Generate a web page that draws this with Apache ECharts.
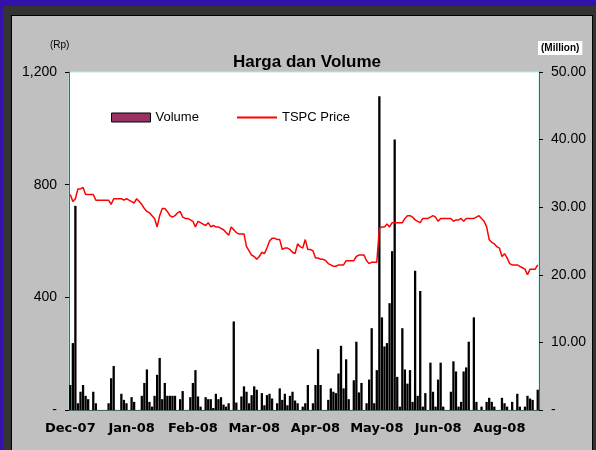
<!DOCTYPE html>
<html>
<head>
<meta charset="utf-8">
<script src="https://cdn.jsdelivr.net/npm/echarts@6/dist/echarts.min.js"></script>
<style>
    body { margin: 0; background: #3311aa; }
    .frame { position: absolute; left: 3px; top: 6px; width: 593px; height: 444px; background: #333; }
    .panel { position: absolute; left: 11px; top: 15px; width: 582px; height: 435px; background: #c0c0c0; border-top: 1px solid #000; border-left: 1px solid #000; border-right: 1px solid #000; box-sizing: border-box; }
    #chart { position: absolute; left: 0; top: 0; width: 596px; height: 450px; }
</style>
</head>
<body>
<div class="frame"></div>
<div class="panel"></div>
<div id="chart"></div>
<script>
// label bulan di sumbu x (satu label tiap 24 hari bursa)
var tickLabels = ['Dec-07', 'Jan-08', 'Feb-08', 'Mar-08', 'Apr-08', 'May-08', 'Jun-08', 'Aug-08'];
var tickStep = 24;

// harga TSPC (Rp), per hari bursa
var price = [
    765, 740, 750, 785, 785, 790, 765, 765, 765, 765,
    745, 745, 745, 745, 745, 745, 730, 750, 750, 750,
    750, 745, 750, 745, 740, 735, 750, 740, 730, 715,
    705, 700, 690, 680, 650, 690, 715, 715, 705, 690,
    685, 690, 700, 705, 685, 680, 680, 675, 670, 650,
    670, 665, 660, 655, 665, 650, 655, 650, 650, 645,
    640, 630, 620, 650, 640, 630, 625, 625, 625, 580,
    565, 550, 545, 535, 545, 560, 555, 575, 600, 610,
    610, 605, 605, 570, 575, 575, 570, 560, 555, 590,
    580, 575, 605, 570, 570, 565, 540, 540, 535, 535,
    530, 520, 515, 510, 510, 515, 515, 515, 530, 530,
    530, 530, 545, 550, 550, 550, 530, 520, 525, 525,
    525, 645, 650, 650, 660, 650, 665, 665, 665, 665,
    665, 680, 690, 690, 685, 675, 670, 665, 680, 680,
    680, 685, 690, 685, 670, 680, 680, 680, 680, 680,
    670, 675, 675, 680, 670, 680, 680, 680, 680, 685,
    690, 680, 670, 650, 605, 595, 590, 580, 575, 545,
    555, 540, 520, 515, 515, 515, 510, 505, 500, 480,
    500, 500, 500, 515
];

// volume (juta lembar)
var volume = [
    3.7, 9.9, 30.2, 1.0, 2.7, 3.7, 2.1, 1.6, 0, 2.7,
    1.0, 0, 0, 0, 0, 1.0, 4.7, 6.5, 0, 0,
    2.4, 1.5, 1.0, 0, 1.9, 1.2, 0, 0, 2.1, 4.0,
    6.0, 1.2, 0.5, 2.1, 5.2, 7.7, 1.6, 4.0, 2.1, 2.1,
    2.1, 2.1, 0, 1.6, 2.8, 0, 0, 1.9, 4.0, 5.9,
    2.0, 0.5, 0, 1.9, 1.6, 1.6, 0.3, 2.4, 1.6, 1.9,
    0.8, 0.5, 1.0, 0, 13.1, 1.1, 0, 2.0, 3.5, 2.7,
    1.0, 2.2, 3.5, 3.0, 0, 2.5, 0.7, 2.2, 2.4, 1.7,
    0, 1.0, 3.2, 1.5, 2.4, 0.7, 2.1, 2.7, 1.4, 1.0,
    0, 0.5, 1.0, 3.7, 0, 1.0, 3.7, 9.0, 3.7, 0,
    0, 1.5, 3.2, 2.7, 2.5, 5.4, 9.5, 3.2, 7.5, 1.6,
    0, 4.4, 10.1, 2.6, 4.0, 0, 1.0, 4.5, 12.1, 1.0,
    5.9, 46.4, 13.7, 9.4, 9.9, 15.8, 23.5, 40.0, 4.9, 0.5,
    12.1, 6.0, 3.9, 5.9, 1.2, 20.6, 2.1, 17.6, 0.5, 2.5,
    0, 7.0, 2.7, 0.5, 4.5, 7.0, 0.5, 0, 0, 2.7,
    7.2, 5.7, 0.5, 1.2, 5.7, 6.3, 10.1, 0, 13.7, 1.2,
    0, 0.5, 0, 1.2, 1.8, 1.2, 0.5, 0, 0, 1.8,
    1.0, 0.5, 0, 1.2, 0, 2.4, 0.5, 0, 0.5, 2.1,
    1.7, 1.5, 0, 3.0
];

// kategori = nomor hari bursa
var days = [];
for (var i = 0; i < volume.length; i++) {
    days.push(i + 1);
}

var myChart = echarts.init(document.getElementById('chart'));
var font = 'Liberation Sans, Arial, sans-serif';
var axisColor = '#4a6464';

var option = {
    animation: false,
    textStyle: { fontFamily: font },
    title: {
        text: 'Harga dan Volume',
        left: 228,
        top: 49,
        textStyle: { fontSize: 17, fontWeight: 'bold', color: '#000', fontFamily: font }
    },
    graphic: [
        { type: 'text', left: 50, top: 40, style: { text: '(Rp)', fontSize: 10, fill: '#000', fontFamily: font } },
        { type: 'text', left: 538, top: 41, style: { text: '(Million)', fontSize: 10, fontWeight: 'bold', fill: '#000', fontFamily: font, backgroundColor: '#fff', padding: [2, 3] } }
    ],
    legend: [{
        left: 106,
        top: 106,
        itemWidth: 39,
        itemHeight: 9,
        itemGap: 5,
        textStyle: { fontSize: 13, color: '#000', fontFamily: font },
        data: [{ name: 'Volume', icon: 'rect', itemStyle: { color: '#993366', borderColor: '#000', borderWidth: 1 } }]
    }, {
        left: 232,
        top: 106,
        itemWidth: 40,
        itemHeight: 2,
        textStyle: { fontSize: 13, color: '#000', fontFamily: font },
        data: [{ name: 'TSPC Price', icon: 'rect', itemStyle: { color: '#ff0000' } }]
    }],
    grid: {
        left: 69,
        right: 57,
        top: 72,
        bottom: 40,
        show: true,
        backgroundColor: '#fff',
        borderColor: '#b0f0f0',
        borderWidth: 1
    },
    xAxis: {
        type: 'category',
        data: days,
        boundaryGap: true,
        axisLine: { lineStyle: { color: axisColor } },
        axisTick: { interval: tickStep - 1, length: 4, lineStyle: { color: '#000' } },
        axisLabel: {
            interval: tickStep - 1,
            margin: 12,
            fontSize: 13,
            fontWeight: 'bold',
            fontFamily: 'DejaVu Sans',
            color: '#000',
            formatter: function (v, idx) {
                return tickLabels[idx / tickStep] || '';
            }
        }
    },
    yAxis: [{
        type: 'value',
        min: 0,
        max: 1200,
        interval: 400,
        splitLine: { show: false },
        axisLine: { show: true, lineStyle: { color: axisColor } },
        axisTick: { show: true, length: 4, lineStyle: { color: '#000' } },
        axisLabel: {
            fontSize: 14,
            color: '#000',
            margin: 12,
            formatter: function (v) {
                return v === 0 ? '-' : v.toLocaleString('en-US');
            }
        }
    }, {
        type: 'value',
        min: 0,
        max: 50,
        interval: 10,
        splitLine: { show: false },
        axisLine: { show: true, lineStyle: { color: axisColor } },
        axisTick: { show: true, length: 4, lineStyle: { color: '#000' } },
        axisLabel: {
            fontSize: 14,
            color: '#000',
            margin: 12,
            formatter: function (v) {
                return v === 0 ? '-' : v.toFixed(2);
            }
        }
    }],
    series: [{
        name: 'Volume',
        type: 'bar',
        yAxisIndex: 1,
        barCategoryGap: '10%',
        itemStyle: { color: '#000' },
        data: volume
    }, {
        name: 'TSPC Price',
        type: 'line',
        yAxisIndex: 0,
        symbol: 'none',
        lineStyle: { color: '#ff0000', width: 1.5 },
        itemStyle: { color: '#ff0000' },
        data: price
    }]
};

myChart.setOption(option);
</script>
</body>
</html>
